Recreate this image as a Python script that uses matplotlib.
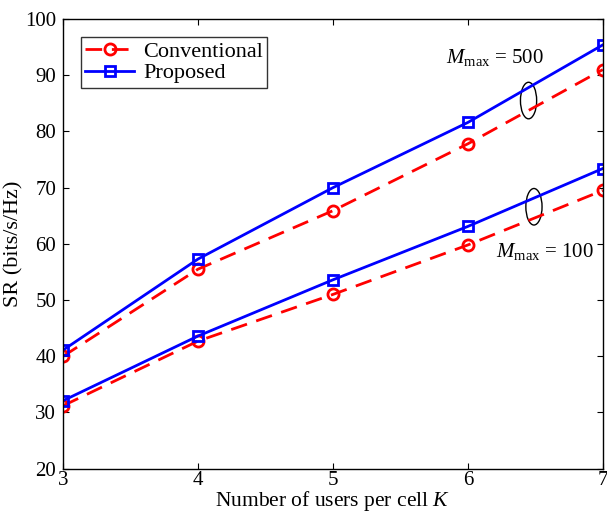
import matplotlib.pyplot as plt
from matplotlib.patches import Ellipse

plt.rcParams['font.family'] = ['Liberation Serif', 'DejaVu Serif']
plt.rcParams['mathtext.fontset'] = 'custom'
plt.rcParams['mathtext.rm'] = 'Liberation Serif'
plt.rcParams['mathtext.it'] = 'Liberation Serif:italic'

K = [3, 4, 5, 6, 7]
conv_500 = [40.0, 55.5, 65.9, 77.8, 91.0]
prop_500 = [41.1, 57.3, 70.0, 81.6, 95.4]
conv_100 = [31.2, 42.7, 51.0, 59.8, 69.5]
prop_100 = [32.1, 43.6, 53.6, 63.1, 73.4]

fig = plt.figure(figsize=(6.07, 5.15), dpi=100)
ax = fig.add_axes([0.104, 0.09, 0.889, 0.873])

dash = (6, 3.5)
ax.plot(K, conv_500, color='red', linestyle='--', dashes=dash, lw=2,
        marker='o', ms=8, mfc='none', mew=2, label='Conventional')
ax.plot(K, prop_500, color='blue', lw=2, marker='s', ms=7, mfc='none', mew=2,
        label='Proposed')
ax.plot(K, conv_100, color='red', linestyle='--', dashes=dash, lw=2,
        marker='o', ms=8, mfc='none', mew=2)
ax.plot(K, prop_100, color='blue', lw=2, marker='s', ms=7, mfc='none', mew=2)

# ellipses grouping each pair of curves
ax.add_patch(Ellipse((6.45, 85.5), 0.12, 6.5, fill=False, lw=1, color='black'))
ax.add_patch(Ellipse((6.49, 66.6), 0.12, 6.5, fill=False, lw=1, color='black'))

ax.text(5.84, 93.1, r'$M_{\mathrm{max}}$ = 500', fontsize=15, va='center')
ax.text(6.21, 58.7, r'$M_{\mathrm{max}}$ = 100', fontsize=15, va='center')

ax.set_xlim(3, 7)
ax.set_ylim(20, 100)
ax.set_xticks(K)
ax.set_yticks(range(20, 101, 10))
ax.tick_params(direction='in', top=True, right=True, labelsize=15, length=4)
ax.tick_params(axis='x', pad=2)
ax.tick_params(axis='y', pad=5)
for s in ax.spines.values():
    s.set_linewidth(1)

ax.set_xlabel(r'Number of users per cell $K$', fontsize=15.5, labelpad=-1)
ax.set_ylabel('SR (bits/s/Hz)', fontsize=16, labelpad=1)

leg = ax.legend(loc='upper left', fontsize=16, frameon=True, fancybox=False,
                edgecolor='black', handlelength=2.2, handletextpad=0.4,
                borderpad=0.2, labelspacing=0.05, borderaxespad=0.8)
leg.get_frame().set_linewidth(1)

fig.savefig('out.png', dpi=100)
